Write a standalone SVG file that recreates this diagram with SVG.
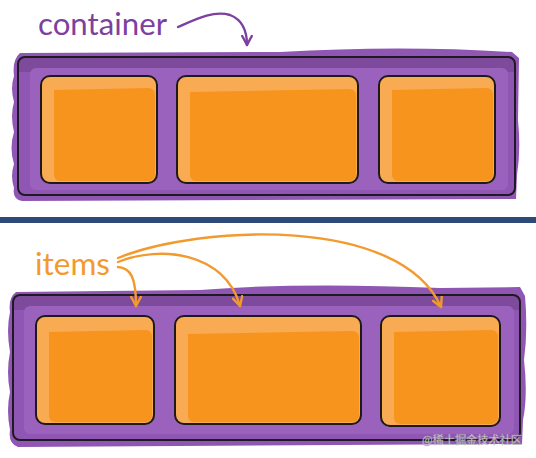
<svg xmlns="http://www.w3.org/2000/svg" width="536" height="458" viewBox="0 0 536 458">
<defs>
<style>
.blob{fill:#8f57b3}
.band{fill:#7a4898;opacity:.85}
.inner{fill:#9a62bd}
.frame{fill:none;stroke:#1f1a22;stroke-width:2}
.itemBase{fill:#f8ab52;stroke:#1e1a1a;stroke-width:2}
.itemFill{fill:#f7941d}
.lbl{font-family:Lato,"Open Sans","Liberation Sans",sans-serif;font-size:31px}
.conn{fill:none;stroke-width:2.4;stroke-linecap:round}
</style>
<marker id="ahP" viewBox="0 0 10 10" refX="8.5" refY="5" markerWidth="12" markerHeight="12" markerUnits="userSpaceOnUse" orient="auto">
<path d="M1,1 L8.5,5 L1,9" fill="none" stroke="#7d3fa0" stroke-width="2" stroke-linecap="round" stroke-linejoin="round"/>
</marker>
<marker id="ahO" viewBox="0 0 10 10" refX="8.5" refY="5" markerWidth="12" markerHeight="12" markerUnits="userSpaceOnUse" orient="auto">
<path d="M1,1 L8.5,5 L1,9" fill="none" stroke="#f29a2e" stroke-width="2" stroke-linecap="round" stroke-linejoin="round"/>
</marker>
</defs>
<rect width="536" height="458" fill="#ffffff"/>

<g id="container-top">
<path class="blob" d="M20,53 L280,52 Q400,45 512,52 L519,58 L518,120 Q521,150 517,175 L516,199 L22,201 Q12,199 14,188 Q10,176 14,164 Q9,148 14,132 Q10,116 14,102 Q10,88 14,76 Q12,60 20,53 Z"/>
<rect class="band" x="19" y="58" width="495" height="14"/>
<rect class="inner" x="30" y="68" width="478" height="122" rx="6"/>
<rect class="frame" x="18" y="57" width="497" height="138" rx="7"/>
</g>
<g id="item-top-1">
<rect class="itemBase" x="41" y="76" width="116" height="107" rx="9"/>
<path class="itemFill" d="M54,90 L148,88 Q155,88 155,95 L155,174 Q155,181 148,181 L60,181 Q54,181 54,174 Z"/>
</g>
<g id="item-top-2">
<rect class="itemBase" x="177" y="76" width="181" height="107" rx="9"/>
<path class="itemFill" d="M190,92 L349,89 Q356,89 356,96 L356,174 Q356,181 349,181 L196,181 Q190,181 190,174 Z"/>
</g>
<g id="item-top-3">
<rect class="itemBase" x="379" y="76" width="116" height="107" rx="9"/>
<path class="itemFill" d="M392,90 L486,88 Q493,88 493,95 L493,174 Q493,181 486,181 L398,181 Q392,181 392,174 Z"/>
</g>
<g id="label-container">
<text class="lbl" x="38" y="35" fill="#7d3fa0" textLength="129" lengthAdjust="spacingAndGlyphs">container</text>
</g>

<rect id="separator" x="0" y="217" width="536" height="6" fill="#2d4a78"/>

<g id="container-bottom">
<path class="blob" d="M16,292 L200,290 Q300,282 440,288 L520,287 L525,296 Q528,330 524,360 Q528,395 523,420 L522,444 L18,447 Q8,444 10,430 Q6,410 10,392 Q6,372 10,352 Q6,330 10,312 Q8,298 16,292 Z"/>
<rect class="band" x="14" y="296" width="505" height="14"/>
<rect class="inner" x="24" y="306" width="490" height="128" rx="6"/>
<rect class="frame" x="13" y="295" width="507" height="145" rx="7"/>
</g>
<g id="item-bottom-1">
<rect class="itemBase" x="36" y="316" width="118" height="108" rx="9"/>
<path class="itemFill" d="M49,332 L145,330 Q152,330 152,337 L152,415 Q152,422 145,422 L55,422 Q49,422 49,415 Z"/>
</g>
<g id="item-bottom-2">
<rect class="itemBase" x="175" y="316" width="186" height="108" rx="9"/>
<path class="itemFill" d="M188,334 L352,331 Q359,331 359,338 L359,415 Q359,422 352,422 L194,422 Q188,422 188,415 Z"/>
</g>
<g id="item-bottom-3">
<rect class="itemBase" x="381" y="316" width="119" height="110" rx="9"/>
<path class="itemFill" d="M394,332 L491,330 Q498,330 498,337 L498,417 Q498,424 491,424 L400,424 Q394,424 394,417 Z"/>
</g>
<g id="label-items">
<text class="lbl" x="35" y="275" fill="#f29a2e" textLength="75" lengthAdjust="spacingAndGlyphs">items</text>
</g>

<g id="connectors">
<path class="conn" stroke="#7d3fa0" marker-end="url(#ahP)" d="M178,27 C196,19 214,10 230,15 C243,20 247,33 247,45"/>
<path class="conn" stroke="#f29a2e" marker-end="url(#ahO)" d="M118,267 C131,268 136,278 136,306"/>
<path class="conn" stroke="#f29a2e" marker-end="url(#ahO)" d="M118,262 C160,245 225,252 240,306"/>
<path class="conn" stroke="#f29a2e" marker-end="url(#ahO)" d="M118,258 C200,225 400,215 441,307"/>
</g>

<text x="422" y="444" font-family="'Noto Sans CJK SC',sans-serif" font-size="11.5" fill="#e2e2e2" stroke="#9a9a9a" stroke-width="0.3" opacity="0.9" textLength="100" lengthAdjust="spacingAndGlyphs">@稀土掘金技术社区</text>
</svg>
